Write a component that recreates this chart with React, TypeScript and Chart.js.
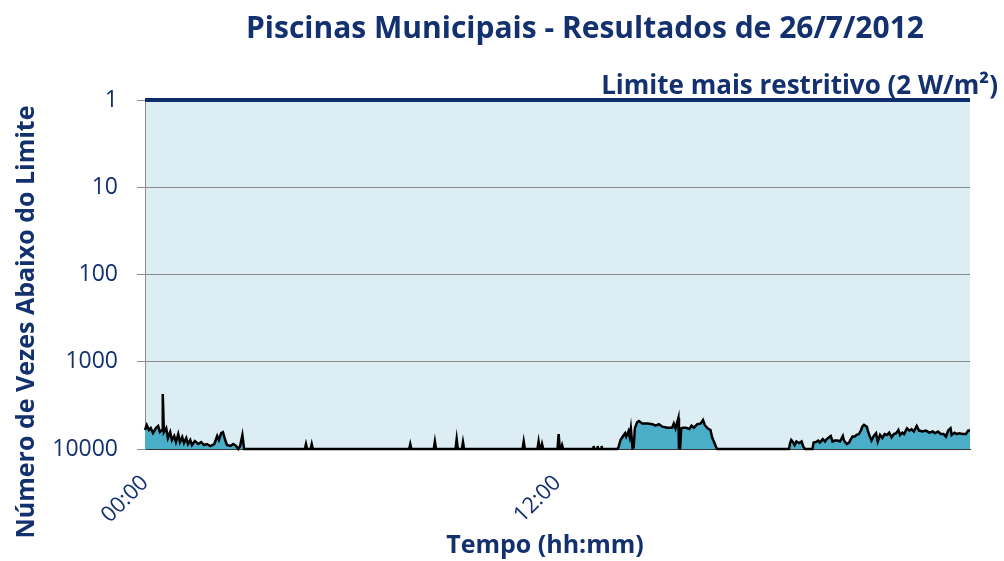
import React, { useEffect, useRef } from "react";
import { Chart, registerables } from "chart.js";

Chart.register(...registerables);

const TITLE = "Piscinas Municipais - Resultados de 26/7/2012";
const Y_TITLE = "Número de Vezes Abaixo do Limite";
const X_TITLE = "Tempo (hh:mm)";
const LIMIT_LABEL = "Limite mais restritivo (2 W/m²)";
const LIMIT_VALUE = 1;
const Y_TICKS = [1, 10, 100, 1000, 10000];
const X_TICKS = [0, 12];
const X_TICK_LABELS = ["00:00", "12:00"];

// Measurement times (hh:mm)
const times: string[] = [
  "00:00", "00:03", "00:07", "00:10", "00:14", "00:19", "00:23", "00:26", "00:30", "00:31",
  "00:33", "00:37", "00:40", "00:44", "00:47", "00:51", "00:54", "00:58", "01:01", "01:05",
  "01:08", "01:12", "01:15", "01:19", "01:22", "01:27", "01:33", "01:38", "01:43", "01:48",
  "01:54", "02:01", "02:06", "02:09", "02:13", "02:16", "02:20", "02:23", "02:29", "02:34",
  "02:39", "02:43", "02:46", "02:50", "02:53",
  "04:39", "04:41", "04:43", "04:49", "04:51", "04:53",
  "07:41", "07:43", "07:45",
  "08:24", "08:26", "08:28",
  "09:02", "09:04", "09:06", "09:13", "09:15", "09:17",
  "10:59", "11:01", "11:03", "11:25", "11:27", "11:29", "11:31", "11:33", "11:35",
  "12:00", "12:02", "12:04", "12:06", "12:08", "12:10",
  "13:02", "13:03", "13:04", "13:09", "13:10", "13:11", "13:16", "13:17", "13:18",
  "13:44", "13:46", "13:50", "13:54", "13:58", "14:00", "14:04", "14:06", "14:08", "14:11",
  "14:13", "14:15", "14:19", "14:22", "14:28", "14:37", "14:46", "14:51", "14:57", "15:03",
  "15:12", "15:20", "15:23", "15:26", "15:31", "15:32", "15:34", "15:36", "15:39", "15:44",
  "15:50", "15:54", "15:58", "16:04", "16:10", "16:14", "16:17", "16:22", "16:27", "16:30",
  "16:33", "16:37", "16:39",
  "18:44", "18:46", "18:48", "18:52", "18:54", "18:57", "19:02", "19:06", "19:09", "19:12",
  "19:25", "19:27", "19:31", "19:35", "19:38", "19:43", "19:47", "19:50", "19:54", "19:57",
  "20:00", "20:04", "20:09", "20:13", "20:18", "20:20", "20:25", "20:29", "20:32", "20:35",
  "20:39", "20:42", "20:46", "20:50", "20:52", "20:55", "21:00", "21:02", "21:06", "21:08",
  "21:12", "21:16", "21:19", "21:23", "21:27", "21:31", "21:35", "21:39", "21:43", "21:47",
  "21:51", "21:55", "21:58", "22:02", "22:05", "22:10", "22:14", "22:18", "22:22", "22:27",
  "22:31", "22:37", "22:43", "22:49", "22:55", "22:59", "23:04", "23:09", "23:14", "23:18",
  "23:22", "23:26", "23:28", "23:33", "23:37", "23:41", "23:47", "23:53", "23:57", "24:00",
];

// Number of times below the limit
const values: number[] = [
  6060, 5310, 6060, 5750, 6560, 5750, 5450, 6390, 6060, 2340,
  6390, 5750, 7480, 6390, 7890, 7100, 8320, 6740, 8320, 7290,
  8540, 7480, 8770, 7890, 9000, 8100, 8770, 8320, 9000, 8770,
  9240, 8770, 7100, 7890, 6560, 6390, 7890, 9000, 9240, 8770,
  9240, 10000, 9240, 6920, 10000,
  10000, 8770, 10000, 10000, 8770, 10000,
  10000, 8770, 10000,
  10000, 8200, 10000,
  10000, 7700, 10000, 10000, 8300, 10000,
  10000, 8200, 10000, 10000, 8200, 10000, 10000, 8770, 10000,
  10000, 6740, 10000, 10000, 9000, 10000,
  10000, 9240, 10000, 10000, 9240, 10000, 10000, 9240, 10000,
  10000, 9740, 7890, 7200, 6600, 7200, 6240, 7200, 5800, 9740,
  9600, 5800, 4950, 4780, 5100, 5100, 5200, 5400, 5200, 5550,
  5700, 5700, 5100, 5800, 4400, 9750, 9750, 5800, 5700, 5700,
  5900, 5400, 5700, 5200, 5100, 4650, 5300, 5800, 6060, 7400,
  8200, 9600, 10000,
  10000, 8540, 7890, 8540, 9000, 8200, 8540, 8200, 9400, 10000,
  10000, 8430, 8320, 8000, 8430, 7700, 8200, 7700, 7330, 7100,
  8200, 8000, 8000, 8200, 7100, 8000, 8770, 8430, 7700, 7200,
  7200, 6900, 6740, 6060, 5550, 5300, 5550, 6300, 7400, 8000,
  7100, 6600, 8200, 6900, 7480, 6740, 6900, 6500, 7330, 6740,
  6600, 6060, 6900, 6500, 6740, 5800, 6150, 5950, 6300, 5450,
  6150, 6300, 6150, 6500, 6300, 6600, 6300, 6740, 6740, 7200,
  6150, 5800, 6900, 6500, 6740, 6600, 6740, 6740, 6150, 6150,
];

const NAVY = "#0f2c6b";
const TEXT_NAVY = "#13306f";
const PLOT_BG = "#dcedf3";
const FILL = "#4aaec8";
const GRID = "#8a8a8a";
const FONT = "'Open Sans', 'DejaVu Sans', sans-serif";

const toHours = (s: string) => {
  const [h, m] = s.split(":").map(Number);
  return h + m / 60;
};

const plotBackground = {
  id: "plotBackground",
  beforeDraw(chart: any) {
    const { ctx, chartArea } = chart;
    ctx.save();
    ctx.fillStyle = PLOT_BG;
    ctx.fillRect(chartArea.left, chartArea.top, chartArea.right - chartArea.left, chartArea.bottom - chartArea.top);
    ctx.restore();
  },
};

const texts = {
  id: "texts",
  afterDraw(chart: any) {
    const { ctx } = chart;
    ctx.save();
    ctx.fillStyle = TEXT_NAVY;
    ctx.textBaseline = "alphabetic";

    ctx.font = `bold 30px ${FONT}`;
    ctx.textAlign = "center";
    ctx.fillText(TITLE, 585, 38);

    ctx.font = `bold 26px ${FONT}`;
    ctx.textAlign = "right";
    ctx.fillText(LIMIT_LABEL, 998, 94);

    ctx.font = `bold 25px ${FONT}`;
    ctx.textAlign = "center";
    ctx.fillText(X_TITLE, 545, 553);

    ctx.translate(34, 322);
    ctx.rotate(-Math.PI / 2);
    ctx.fillText(Y_TITLE, 0, 0);
    ctx.restore();
  },
};

export default function App() {
  const ref = useRef<HTMLCanvasElement | null>(null);

  useEffect(() => {
    document.body.style.margin = "0";
    const canvas = ref.current;
    if (!canvas) return;
    const series = times.map((t, i) => ({ x: toHours(t), y: values[i] }));
    const chart = new Chart(canvas, {
      type: "line",
      data: {
        datasets: [
          {
            label: "Limite",
            data: [
              { x: 0, y: LIMIT_VALUE },
              { x: 24, y: LIMIT_VALUE },
            ],
            borderColor: NAVY,
            borderWidth: 4,
            pointRadius: 0,
            fill: false,
            clip: 8,
            order: 0,
          } as any,
          {
            label: "Resultados",
            data: series,
            borderColor: "#000000",
            borderWidth: 2.5,
            backgroundColor: FILL,
            fill: { value: 10000 },
            pointRadius: 0,
            tension: 0,
            clip: 3,
            order: 1,
          } as any,
        ],
      },
      options: {
        animation: false,
        responsive: false,
        maintainAspectRatio: false,
        layout: { padding: { top: 100, right: 34, left: 0, bottom: 0 } },
        plugins: {
          legend: { display: false },
          tooltip: { enabled: false },
          title: { display: false },
        },
        scales: {
          x: {
            type: "linear",
            min: 0,
            max: 24,
            afterBuildTicks: (s: any) => {
              s.ticks = X_TICKS.map((v) => ({ value: v }));
            },
            afterFit: (s: any) => {
              s.height = 112;
            },
            ticks: {
              autoSkip: false,
              maxRotation: 45,
              minRotation: 45,
              padding: 21,
              color: TEXT_NAVY,
              font: { family: FONT, size: 22 },
              callback: (v: any) => {
                const i = X_TICKS.indexOf(Number(v));
                return i >= 0 ? X_TICK_LABELS[i] : "";
              },
            },
            grid: { display: false, drawTicks: false },
            border: { display: true, color: "#333333", width: 1 },
          },
          y: {
            type: "logarithmic",
            reverse: true,
            min: 1,
            max: 10000,
            afterBuildTicks: (s: any) => {
              s.ticks = Y_TICKS.map((v) => ({ value: v }));
            },
            afterFit: (s: any) => {
              s.width = 145;
            },
            ticks: {
              autoSkip: false,
              padding: 19,
              color: TEXT_NAVY,
              font: { family: FONT, size: 23 },
              callback: (v: any) => String(v),
            },
            grid: { color: GRID, lineWidth: 1, tickLength: 8, drawTicks: true },
            border: { display: true, color: GRID, width: 1 },
          },
        },
      },
      plugins: [plotBackground, texts],
    });
    return () => chart.destroy();
  }, []);

  return (
    <div style={{ position: "relative", width: 1004, height: 561 }}>
      <canvas ref={ref} width={1004} height={561} style={{ display: "block" }} />
    </div>
  );
}
